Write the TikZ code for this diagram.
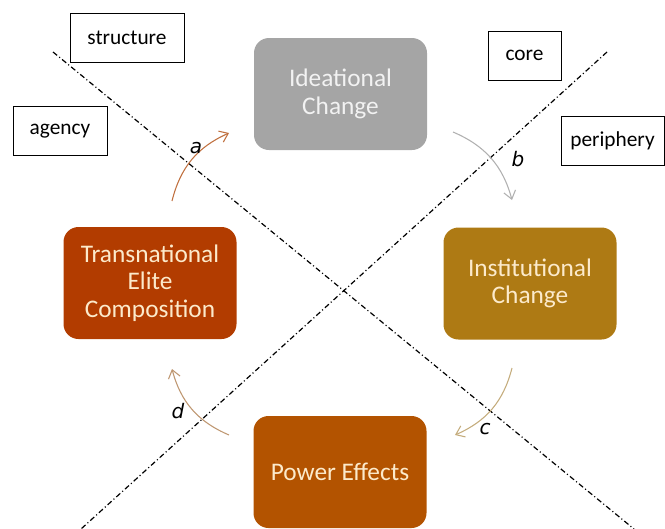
\documentclass[tikz,border=0pt]{standalone}
\usepackage{fontspec}
\setmainfont{Carlito}
\newfontfamily\letterfont{DejaVu Sans}
\usetikzlibrary{arrows.meta}
\definecolor{idea}{HTML}{A5A5A5}
\definecolor{trans}{HTML}{B23C00}
\definecolor{inst}{HTML}{AE7A14}
\definecolor{power}{HTML}{B35300}
\definecolor{cream}{HTML}{FCEACB}
\definecolor{ideatext}{HTML}{F2F2F2}
\definecolor{arra}{HTML}{C0703F}
\definecolor{arrb}{HTML}{B0B0B0}
\definecolor{arrc}{HTML}{C4AC7C}
\definecolor{arrd}{HTML}{BE9670}
\tikzset{
  stage/.style={rounded corners=11.25pt, minimum width=129.75pt, minimum height=84pt,
    align=center, text=cream, font=\fontsize{19}{20.5}\selectfont, inner sep=0pt},
  tag/.style={draw=black, line width=0.75pt, fill=white, minimum height=36.75pt,
    inner sep=0pt, font=\fontsize{16}{18}\selectfont},
  divider/.style={line width=0.9pt, dash pattern=on 4pt off 2pt on 0.8pt off 2pt},
  flow/.style={line width=0.8pt, -{Straight Barb[length=6pt,width=9pt]}, bend left=26},
  letter/.style={font=\letterfont\itshape\fontsize{15}{16}\selectfont}
}
\begin{document}
\begin{tikzpicture}[x=0.75pt,y=-0.75pt]
\useasboundingbox (0,0) rectangle (665,529);
% divider lines
\coordinate (s1) at (53,52);
\coordinate (e1) at (634,529);
\coordinate (s2) at (607,52);
\coordinate (e2) at (81,529);
\draw[divider] (s1) -- (e1);
\draw[divider] (s2) -- (e2);
% stage boxes
\node[stage, fill=idea, text=ideatext] (idea) at (340.5,94) {Ideational\\Change};
\node[stage, fill=trans] (trans) at (150,283) {Transnational\\Elite\\Composition};
\node[stage, fill=inst] (inst) at (530,283.5) {Institutional\\Change};
\node[stage, fill=power] (power) at (340,472) {Power Effects};
% tags
\node[tag, minimum width=85.5pt] (structure) at (127,37.5) {structure};
\node[tag, minimum width=70.5pt] (agency) at (60,131) {agency};
\node[tag, minimum width=54.75pt] (core) at (524.5,55.5) {core};
\node[tag, minimum width=77.25pt] (periphery) at (612.5,141) {periphery};
% flow arrows
\coordinate (a0) at (172,201);
\coordinate (a1) at (229,133);
\coordinate (b0) at (453,132);
\coordinate (b1) at (512,200);
\coordinate (c0) at (512,368);
\coordinate (c1) at (455,435);
\coordinate (d0) at (229,435);
\coordinate (d1) at (172,369);
\draw[flow, arra] (a0) to (a1);
\draw[flow, arrb] (b0) to (b1);
\draw[flow, arrc] (c0) to (c1);
\draw[flow, arrd] (d0) to (d1);
% letters
\node[letter] (la) at (196,148) {a};
\node[letter] (lb) at (518,159) {b};
\node[letter] (lc) at (485,429) {c};
\node[letter] (ld) at (178,411) {d};
\end{tikzpicture}
\end{document}
